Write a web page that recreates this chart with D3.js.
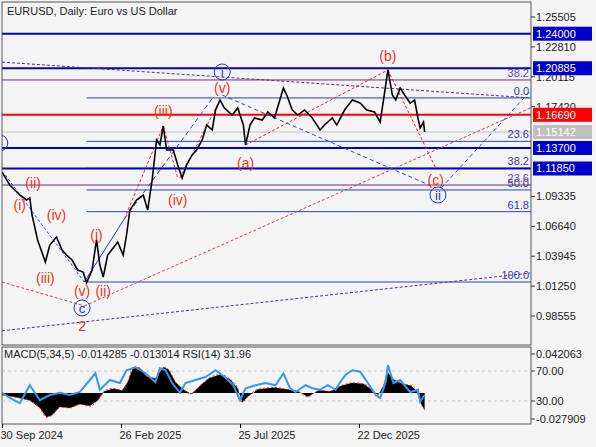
<!DOCTYPE html>
<html><head><meta charset="utf-8">
<script src="https://cdn.jsdelivr.net/npm/d3@7"></script>
<style>
body{margin:0;background:#fff;}
text{font-family:"Liberation Sans",Arial,sans-serif;}
</style></head>
<body><svg id="c" width="596" height="447"></svg>
<script>
// ---- data ----
var barIdx = [0,7,16,22,25,27,32,39,43,49,54,58,63,68,73,76,81,85,88,91,95,102,104,109,112,115,121,127,131,135,139,142,145,148,154,158,162,166,171,175,180,184,189,192,196,200,207,212,217,219,223,227,234,239,245,253,256,261,266,272,279,286,290,297,301,308,315,322,328,335,340,343,347,351,354,358,362,367,371,374,376,379,380];
var closes = [1.1153,1.1036,1.0946,1.0901,1.0919,1.0766,1.0541,1.0342,1.0495,1.0568,1.0450,1.0405,1.0360,1.0270,1.0252,1.0153,1.0270,1.0541,1.0315,1.0207,1.0405,1.0495,1.0522,1.0405,1.0586,1.0811,1.0901,1.0946,1.0811,1.1081,1.1442,1.1397,1.1568,1.1352,1.1352,1.1217,1.1100,1.1217,1.1307,1.1352,1.1442,1.1577,1.1532,1.1712,1.1802,1.1730,1.1667,1.1730,1.1577,1.1397,1.1577,1.1640,1.1622,1.1694,1.1640,1.1910,1.1847,1.1712,1.1667,1.1712,1.1640,1.1532,1.1577,1.1640,1.1577,1.1712,1.1802,1.1775,1.1712,1.1694,1.1604,1.1802,1.2073,1.1847,1.1802,1.1910,1.1847,1.1775,1.1802,1.1640,1.1550,1.1604,1.1514];
var macdIdx = [0,10,25,34,40,45,52,61,70,79,86,92,100,108,113,118,124,130,138,145,150,156,162,170,178,186,196,205,212,216,221,230,245,256,266,275,285,295,305,315,325,333,338,343,347,352,360,368,373,377,380];
var macdHist = [-0.002,-0.004,-0.008,-0.016,-0.026,-0.024,-0.015,-0.016,-0.012,-0.014,-0.008,0.002,0.005,0.003,0.012,0.028,0.027,0.018,0.016,0.028,0.025,0.012,0.005,-0.001,0.008,0.016,0.020,0.015,0.005,-0.010,-0.004,0.004,0.006,0.004,0.002,-0.004,0.003,0.002,0.008,0.011,0.010,0.003,-0.002,0.008,0.022,0.015,0.010,0.008,0.002,-0.012,-0.018];
var rsiIdx = [0,7,16,25,34,43,52,61,70,79,84,88,97,106,112,120,129,138,142,147,153,160,165,174,183,192,201,208,214,219,228,237,246,253,259,264,273,279,286,293,300,304,309,315,322,329,336,340,345,347,352,358,367,374,376,380];
var rsiVals = [41,34,27,51,31,38,41,38,42,58,67,45,58,54,71,75,67,55,74,71,54,41,54,58,62,71,61,51,31,47,51,54,51,67,47,42,51,47,45,51,45,55,65,71,69,54,38,34,55,78,54,58,42,45,29,38];
var priceTicks = [1.25505,1.22810,1.20115,1.17420,1.09335,1.06640,1.03945,1.01250,0.98555];
var levels = [ // price, colour, width, label background
  {p:1.24000,c:"#0000cc",w:2,bg:"#0000cc"},
  {p:1.20885,c:"#0000cc",w:2,bg:"#0000cc"},
  {p:1.16690,c:"#ff0000",w:2,bg:"#ff0000"},
  {p:1.13700,c:"#0000cc",w:2,bg:"#0000cc"},
  {p:1.11850,c:"#0000cc",w:2,bg:"#0000cc"}
];
var lastPrice = 1.15142;
var fibA = [0,23.6,38.2,50.0,61.8,100.0], fibTop = 1.1821, fibBot = 1.0162;
var fibB = [[38.2,1.1983],[23.6,1.1036]];
var dateTicks = [0,107,214,321], dateLabels = ["30 Sep 2024","26 Feb 2025","25 Jul 2025","22 Dec 2025"];
// label, bar index, price
var waves = [["(i)",16,1.0856],["(ii)",28,1.1054],["(iii)",39,1.0198],["(iv)",49,1.0766],["(v)",72,1.0081],["(i)",85,1.0586],["(ii)",91,1.0081],["(iii)",145,1.1703],["(iv)",158,1.0901],["(v)",198,1.1910],["(a)",219,1.1235],["(b)",347,1.2199],["(c)",390,1.1081]];
var twoLabel = ["2",72,0.9766];
var circles = [["c",72,0.9928],["i",198,1.2055],["ii",392,1.0946],["",-2,1.1415]];

// ---- layout ----
var svg = d3.select("#c");
var L=2,R=531,T=2,B=345,mT=347,mB=424;
svg.append("rect").attr("width",596).attr("height",447).attr("fill","#f4f4f4");
var x = d3.scaleLinear().domain([0,107]).range([2,121]);
var y = d3.scaleLinear().domain([0.98555,1.25505]).range([316,17]);
var ym = d3.scaleLinear().domain([-0.027909,0.042063]).range([419,354]);
var yr = d3.scaleLinear().domain([0,100]).range([423.5,348.5]);

var main = svg.append("g");
main.append("clipPath").attr("id","cp").append("rect").attr("x",L).attr("y",T).attr("width",R-L).attr("height",B-T);
var g = main.append("g").attr("clip-path","url(#cp)");

// horizontal levels
fibA.forEach(function(f){
  var p = fibTop-(fibTop-fibBot)*f/100;
  g.append("line").attr("x1",x(76)).attr("x2",R).attr("y1",y(p)).attr("y2",y(p)).attr("stroke","#2a3fd0").attr("stroke-width",1);
  svg.append("text").attr("x",R-2).attr("y",y(p)-3).attr("text-anchor","end").attr("font-size",11).attr("fill","#3333bb").text(f.toFixed(1));
});
fibB.forEach(function(f){
  g.append("line").attr("x1",L).attr("x2",R).attr("y1",y(f[1])).attr("y2",y(f[1])).attr("stroke","#6a2a8a").attr("stroke-width",1);
  svg.append("text").attr("x",R-2).attr("y",y(f[1])-3).attr("text-anchor","end").attr("font-size",11).attr("fill","#6a4aa0").text(f[0].toFixed(1));
});
g.append("line").attr("x1",L).attr("x2",R).attr("y1",y(lastPrice)).attr("y2",y(lastPrice)).attr("stroke","#c0c0c0");
levels.forEach(function(l){
  g.append("line").attr("x1",L).attr("x2",R).attr("y1",y(l.p)).attr("y2",y(l.p)).attr("stroke",l.c).attr("stroke-width",l.w);
});

// trend / wave lines
function seg(a,b,c,dash){
  g.append("line").attr("x1",x(a[0])).attr("y1",y(a[1])).attr("x2",x(b[0])).attr("y2",y(b[1]))
    .attr("stroke",c).attr("stroke-width",1).attr("stroke-dasharray",dash);
}
seg([0,1.2144],[475,1.1821],"#553377","3,2");
seg([0,0.9722],[475,1.0243],"#553377","3,2");
seg([0,1.0162],[74,0.9946],"#b05050","3,2");
seg([74,0.9946],[475,1.1730],"#b05050","3,2");
seg([3,1.1126],[74,1.0162],"#3344cc","3,2");
seg([74,1.0162],[110,1.0730],"#2233dd","0");
seg([110,1.0730],[190,1.1829],"#3344cc","5,3");
seg([110,1.0730],[145,1.1568],"#cc3333","3,2");
seg([145,1.1568],[158,1.1100],"#cc3333","3,2");
seg([160,1.1100],[196,1.1802],"#cc3333","3,2");
seg([198,1.1847],[390,1.1010],"#3344cc","4,3");
seg([395,1.1010],[475,1.1883],"#3344cc","4,3");
seg([219,1.1397],[347,1.2073],"#cc3333","3,2");
seg([347,1.2073],[390,1.1190],"#cc3333","3,2");

// price line
var pts = barIdx.map(function(d,i){return [x(d),y(closes[i])];});
g.append("path").attr("d",d3.line()(pts)).attr("fill","none").attr("stroke","#000").attr("stroke-width",1.6);

// wave labels
waves.forEach(function(w){
  g.append("text").attr("x",x(w[1])).attr("y",y(w[2])+5).attr("text-anchor","middle")
    .attr("font-size",14).attr("fill","#ee3322").text(w[0]);
});
g.append("text").attr("x",x(twoLabel[1])).attr("y",y(twoLabel[2])+5).attr("text-anchor","middle")
  .attr("font-size",14).attr("fill","#b04040").text(twoLabel[0]);
circles.forEach(function(cc){
  g.append("circle").attr("cx",x(cc[1])).attr("cy",y(cc[2])).attr("r",8).attr("fill","none").attr("stroke","#2233dd");
  g.append("text").attr("x",x(cc[1])).attr("y",y(cc[2])+5).attr("text-anchor","middle").attr("font-size",13).attr("fill","#2233dd").text(cc[0]);
});

// frames
svg.append("rect").attr("x",L).attr("y",T).attr("width",R-L).attr("height",B-T).attr("fill","none").attr("stroke","#555");
svg.append("rect").attr("x",L).attr("y",mT).attr("width",R-L).attr("height",mB-mT).attr("fill","none").attr("stroke","#555");
svg.append("text").attr("x",7).attr("y",15).attr("font-size",11).attr("fill","#222").text("EURUSD, Daily:  Euro vs US Dollar");

// price axis
priceTicks.forEach(function(p){
  svg.append("line").attr("x1",R).attr("x2",R+4).attr("y1",y(p)).attr("y2",y(p)).attr("stroke","#333");
  svg.append("text").attr("x",R+5).attr("y",y(p)+4).attr("font-size",11).attr("fill","#222").text(p.toFixed(5));
});
levels.concat([{p:lastPrice,bg:"#c0c0c0"}]).forEach(function(l){
  svg.append("rect").attr("x",R+2).attr("y",y(l.p)-7).attr("width",59).attr("height",14).attr("fill",l.bg);
  svg.append("text").attr("x",R+5).attr("y",y(l.p)+4).attr("font-size",11).attr("fill","#fff").text(l.p.toFixed(5));
});

// MACD / RSI panel
var m = svg.append("g");
[70,30].forEach(function(v){
  m.append("line").attr("x1",L).attr("x2",R).attr("y1",yr(v)).attr("y2",yr(v)).attr("stroke","#c8c8c8").attr("stroke-dasharray","3,3");
});
var area = d3.area().x(function(d,i){return x(macdIdx[i]);}).y0(ym(0)).y1(function(d){return ym(d);});
m.append("path").attr("d",area(macdHist)).attr("fill","#000");
var sig = d3.line().x(function(d,i){return x(macdIdx[i]);}).y(function(d){return ym(d);}).curve(d3.curveMonotoneX);
m.append("path").attr("d",sig(macdHist)).attr("fill","none").attr("stroke","#e03030").attr("stroke-dasharray","2,2");
var rl = d3.line().x(function(d,i){return x(rsiIdx[i]);}).y(function(d){return yr(d);});
m.append("path").attr("d",rl(rsiVals)).attr("fill","none").attr("stroke","#3399ee").attr("stroke-width",2);
m.append("text").attr("x",4).attr("y",358).attr("font-size",11).attr("fill","#222").text("MACD(5,34,5) -0.014285 -0.013014 RSI(14) 31.96");
[["0.042063",ym(0.042063)],["70.00",yr(70)],["30.00",yr(30)],["-0.027909",ym(-0.027909)]].forEach(function(t){
  svg.append("line").attr("x1",R).attr("x2",R+4).attr("y1",t[1]).attr("y2",t[1]).attr("stroke","#333");
  svg.append("text").attr("x",R+5).attr("y",t[1]+4).attr("font-size",11).attr("fill","#222").text(t[0]);
});

// date axis
var ax = svg.append("g").attr("transform","translate(0,"+mB+")")
  .call(d3.axisBottom(x).tickValues(dateTicks).tickSize(4).tickFormat(function(d,i){return dateLabels[i];}));
ax.select(".domain").remove();
ax.selectAll("text").attr("font-size",11).attr("fill","#222").attr("text-anchor","start").attr("dx",-2).attr("font-family","Liberation Sans, Arial");
</script></body></html>
